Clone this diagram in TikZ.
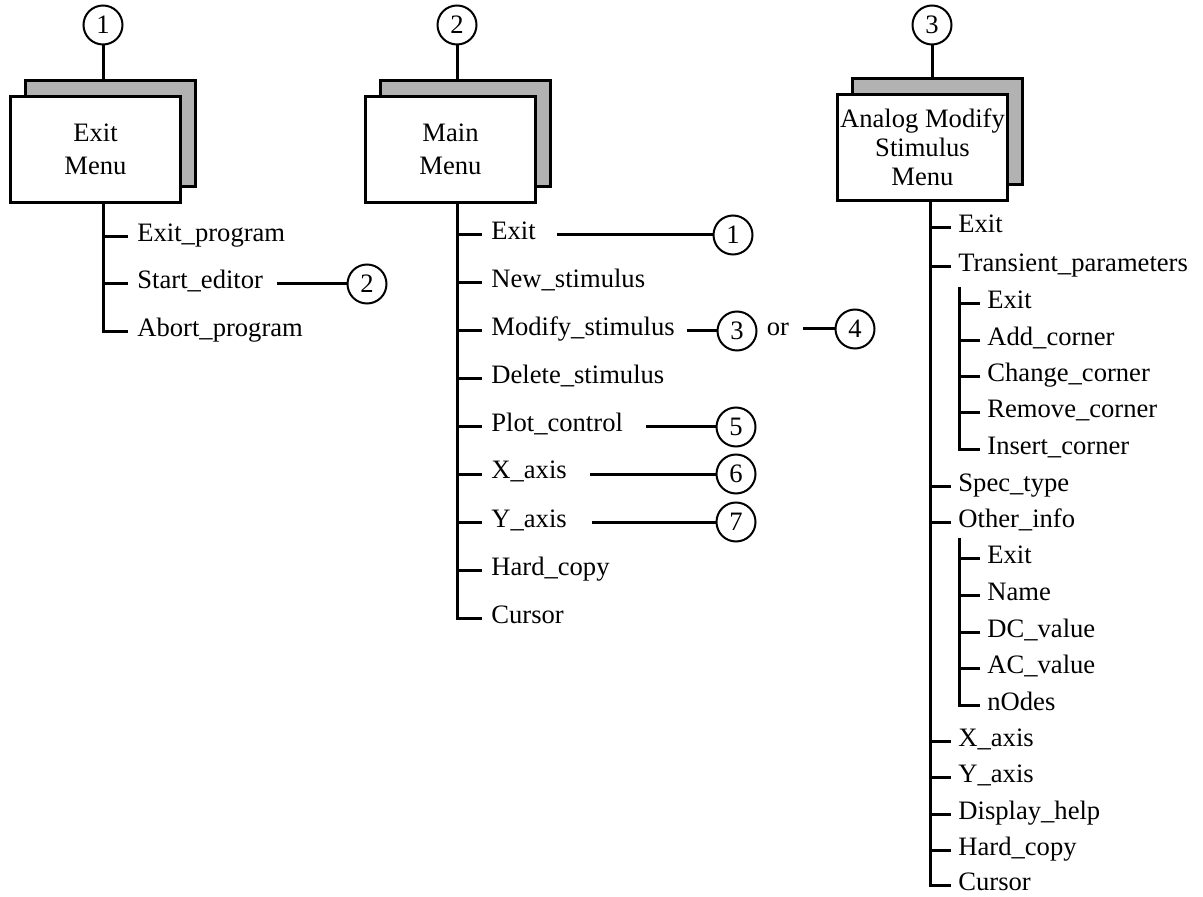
\documentclass[tikz,border=0pt]{standalone}
\usepackage{fontspec}
\setmainfont{Liberation Serif}
\begin{document}
\begin{tikzpicture}[x=0.5pt,y=-0.5pt,
  every node/.style={font=\fontsize{13.3}{16}\selectfont},
  menubox/.style={draw, line width=1.5pt, fill=white, minimum width=85pt,
    minimum height=53pt, inner sep=0pt, align=center,
    font=\fontsize{13.3}{16.5}\selectfont},
  shadowbox/.style={draw, line width=1.5pt, fill=black!30, minimum width=85pt,
    minimum height=53pt, inner sep=0pt},
  ref/.style={draw, circle, line width=1pt, minimum size=19.5pt, inner sep=0pt},
  item/.style={anchor=west, inner xsep=4.5pt, inner ysep=0pt,
    text height=8.5pt, text depth=3.5pt},
  subitem/.style={item, inner xsep=3.5pt},
  tree/.style={line width=1.5pt},
  link/.style={line width=1.5pt},
]
\useasboundingbox (0,0) rectangle (1203,897);

% ---------------- Exit menu ----------------
\node[ref] (t1) at (103,25) {1};
\node[shadowbox] (s1) at (110.5,134) {};
\node[menubox] (b1) at (95.5,149.5) {Exit\\Menu};
\draw[tree] (t1.south) -- (t1 |- s1.north);
\node[item] (e1) at (128,237) {Exit\_program};
\node[item] (e2) at (128,284) {Start\_editor};
\node[item] (e3) at (128,332) {Abort\_program};
\draw[tree] (t1 |- b1.south) |- (e3.west);
\foreach \n in {e1,e2} \draw[tree] (t1 |- \n.west) -- (\n.west);
\node[ref] (r12) at (367,284) {2};
\coordinate (l12) at (277,284);
\draw[link] (l12) -- (r12.west);

% ---------------- Main menu ----------------
\node[ref] (t2) at (457,25) {2};
\node[shadowbox] (s2) at (465.5,134) {};
\node[menubox] (b2) at (450.5,149.5) {Main\\Menu};
\draw[tree] (t2.south) -- (t2 |- s2.north);
\node[item] (m1) at (482,235) {Exit};
\node[item] (m2) at (482,283) {New\_stimulus};
\node[item] (m3) at (482,331) {Modify\_stimulus};
\node[item] (m4) at (482,379) {Delete\_stimulus};
\node[item] (m5) at (482,427) {Plot\_control};
\node[item] (m6) at (482,474) {X\_axis};
\node[item] (m7) at (482,522) {Y\_axis};
\node[item] (m8) at (482,570) {Hard\_copy};
\node[item] (m9) at (482,618) {Cursor};
\draw[tree] (t2 |- b2.south) |- (m9.west);
\foreach \n in {m1,m2,m3,m4,m5,m6,m7,m8} \draw[tree] (t2 |- \n.west) -- (\n.west);

\node[ref] (r21) at (733,235) {1};
\coordinate (l21) at (557,235);
\draw[link] (l21) -- (r21.west);
\node[ref] (r23) at (737,331) {3};
\coordinate (l23) at (687,331);
\draw[link] (l23) -- (r23.west);
\node (or) at (778,329) {or};
\node[ref] (r24) at (855,329) {4};
\coordinate (l24) at (803,329);
\draw[link] (l24) -- (r24.west);
\node[ref] (r25) at (736,427) {5};
\coordinate (l25) at (646,427);
\draw[link] (l25) -- (r25.west);
\node[ref] (r26) at (736,474) {6};
\coordinate (l26) at (590,474);
\draw[link] (l26) -- (r26.west);
\node[ref] (r27) at (736,522) {7};
\coordinate (l27) at (592,522);
\draw[link] (l27) -- (r27.west);

% ---------------- Analog modify stimulus menu ----------------
\node[ref] (t3) at (932,25) {3};
\node[shadowbox] (s3) at (937.5,132) {};
\node[menubox, font=\fontsize{13.3}{14.5}\selectfont] (b3) at (922.5,147.5)
  {Analog Modify\\Stimulus\\Menu};
\draw[tree] (t3.south) -- (t3 |- s3.north);
\coordinate (k3) at (930,0);
\node[subitem] (a1)  at (951,228) {Exit};
\node[subitem] (a2)  at (951,267) {Transient\_parameters};
\node[subitem] (a3)  at (951,486) {Spec\_type};
\node[subitem] (a4)  at (951,522) {Other\_info};
\node[subitem] (a5)  at (951,741) {X\_axis};
\node[subitem] (a6)  at (951,777) {Y\_axis};
\node[subitem] (a7)  at (951,814) {Display\_help};
\node[subitem] (a8)  at (951,850) {Hard\_copy};
\node[subitem] (a9)  at (951,885) {Cursor};
\draw[tree] (k3 |- b3.south) |- (a9.west);
\foreach \n in {a1,a2,a3,a4,a5,a6,a7,a8} \draw[tree] (k3 |- \n.west) -- (\n.west);

% transient parameters submenu
\coordinate (k31) at (959,287);
\node[subitem] (p1) at (980,304) {Exit};
\node[subitem] (p2) at (980,341) {Add\_corner};
\node[subitem] (p3) at (980,377) {Change\_corner};
\node[subitem] (p4) at (980,413) {Remove\_corner};
\node[subitem] (p5) at (980,450) {Insert\_corner};
\draw[tree] (k31) |- (p5.west);
\foreach \n in {p1,p2,p3,p4} \draw[tree] (k31 |- \n.west) -- (\n.west);

% other info submenu
\coordinate (k32) at (959,538);
\node[subitem] (o1) at (980,558) {Exit};
\node[subitem] (o2) at (980,595) {Name};
\node[subitem] (o3) at (980,632) {DC\_value};
\node[subitem] (o4) at (980,668) {AC\_value};
\node[subitem] (o5) at (980,705) {nOdes};
\draw[tree] (k32) |- (o5.west);
\foreach \n in {o1,o2,o3,o4} \draw[tree] (k32 |- \n.west) -- (\n.west);

\end{tikzpicture}
\end{document}
